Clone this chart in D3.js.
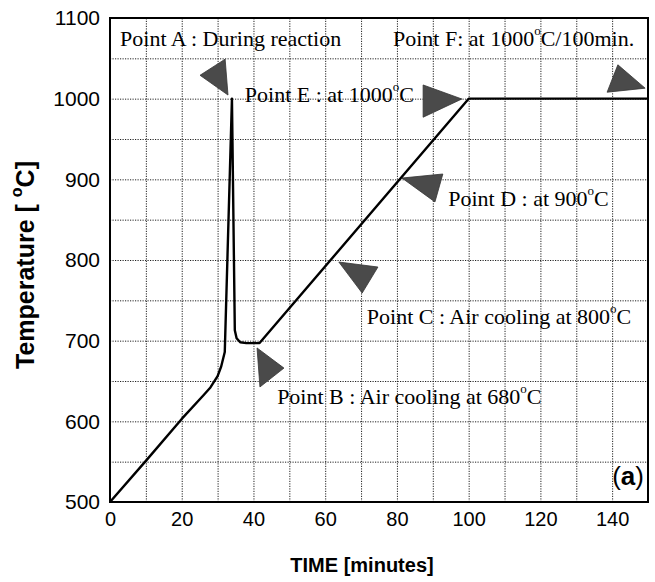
<!DOCTYPE html>
<html><head><meta charset="utf-8">
<script src="https://cdn.jsdelivr.net/npm/d3@7"></script>
<style>
html,body{margin:0;padding:0;background:#fff;}
svg{display:block;}
</style></head>
<body><svg id="chart" width="655" height="582"></svg>
<script>
// ---- data ----
const timeMin = [0, 10, 20, 26, 28, 30, 31, 32, 34, 34.8, 35.3, 36.3, 38, 41.7, 100, 150];
const tempC   = [500, 551, 603, 632, 642, 656, 668, 686, 1000, 713, 703, 698, 697, 697, 1000, 1000];
const xTickLabels = [0, 20, 40, 60, 80, 100, 120, 140];
const yTickLabels = [500, 600, 700, 800, 900, 1000, 1100];
const xGrid = [10,20,30,40,50,60,70,80,90,100,110,120,130,140];
const yGrid = [550,600,650,700,750,800,850,900,950,1000,1050];
// annotation labels: [text before degree, text after degree]
const noteText = [
  ["Point A : During reaction", ""],
  ["Point F: at 1000", "C/100min."],
  ["Point E : at 1000", "C"],
  ["Point D : at 900", "C"],
  ["Point C : Air cooling at 800", "C"],
  ["Point B : Air cooling at 680", "C"]
];
const noteAt = [[2.8, 1072], [78.9, 1071], [37.6, 1002], [94.3, 873], [71.6, 727], [46.6, 628]];
// pointer triangles: vertices as [time, temp]
const triA = [[25.1,1029],[32.1,1049],[32.9,1004.5]];
const triE = [[87.3,1017],[87.3,977],[98.1,999.6]];
const triF = [[138.6,1008],[141.6,1042],[149.2,1013]];
const triD = [[81.4,901.6],[92.8,906.6],[90.6,872]];
const triC = [[63.8,797.5],[74.7,791.3],[70.3,759]];
const triB = [[41.0,691],[48.5,666],[41.8,642.6]];

// ---- layout ----
const L = 110, R = 648, T = 18, B = 502;
const svg = d3.select("#chart");
const x = d3.scaleLinear().domain([0,150]).range([L,R]);
const y = d3.scaleLinear().domain([500,1100]).range([B,T]);

// grid
const gx = svg.append("g").attr("transform",`translate(0,${B})`)
  .call(d3.axisBottom(x).tickValues(xGrid).tickSize(-(B-T)).tickFormat(""));
const gy = svg.append("g").attr("transform",`translate(${L},0)`)
  .call(d3.axisLeft(y).tickValues(yGrid).tickSize(-(R-L)).tickFormat(""));
[gx,gy].forEach(g=>{
  g.select(".domain").remove();
  g.selectAll("line").attr("stroke","#222").attr("stroke-width",1).attr("stroke-dasharray","1.2,1.3");
});

// tick labels
const ax = svg.append("g").attr("transform",`translate(0,${B})`)
  .call(d3.axisBottom(x).tickValues(xTickLabels).tickSize(0).tickPadding(10).tickFormat(d3.format("d")));
ax.select(".domain").remove();
ax.selectAll("text").attr("font-family","'Liberation Sans', Arial, sans-serif").attr("font-size",20).attr("fill","#000").attr("dy","0.71em");
const ay = svg.append("g").attr("transform",`translate(${L},0)`)
  .call(d3.axisLeft(y).tickValues(yTickLabels).tickSize(0).tickPadding(10).tickFormat(d3.format("d")));
ay.select(".domain").remove();
ay.selectAll("text").attr("font-family","'Liberation Sans', Arial, sans-serif").attr("font-size",21).attr("fill","#000");

// triangles
const tris = [triA, triE, triF, triD, triC, triB];
svg.append("g").selectAll("path").data(tris).join("path")
  .attr("d", d => "M" + d.map(p => x(p[0]) + "," + y(p[1])).join("L") + "Z")
  .attr("fill","#4a4a4a").attr("stroke","#333").attr("stroke-width",0.8);

// curve
const pts = timeMin.map((t,i)=>[t,tempC[i]]);
svg.append("path").datum(pts)
  .attr("d", d3.line().x(d=>x(d[0])).y(d=>y(d[1])))
  .attr("fill","none").attr("stroke","#000").attr("stroke-width",2.4).attr("stroke-linejoin","round");

// frame
svg.append("rect").attr("x",L).attr("y",T).attr("width",R-L).attr("height",B-T)
  .attr("fill","none").attr("stroke","#000").attr("stroke-width",2);

// annotations
const notes = svg.append("g").attr("font-family","'Liberation Serif', 'Times New Roman', serif").attr("font-size",22).attr("fill","#000");
noteText.forEach((nt,i)=>{
  const t = notes.append("text").attr("x",x(noteAt[i][0])).attr("y",y(noteAt[i][1])).attr("dominant-baseline","middle");
  t.append("tspan").text(nt[0]);
  if (nt[1]) {
    t.append("tspan").attr("font-size",13).attr("dy",-9).attr("dx",0).text("o");
    t.append("tspan").attr("dy",9).attr("dx",0).text(nt[1]);
  }
});

// (a)
svg.append("text").attr("x",644).attr("y",y(530)).attr("text-anchor","end").attr("dominant-baseline","middle")
  .attr("font-family","'Liberation Sans', Arial, sans-serif").attr("font-size",26).attr("font-weight","bold")
  .html('<tspan font-weight="normal">(</tspan>a<tspan font-weight="normal">)</tspan>');

// axis titles
svg.append("text").attr("x",362).attr("y",567).attr("text-anchor","middle").attr("dominant-baseline","middle")
  .attr("font-family","'Liberation Sans', Arial, sans-serif").attr("font-size",20).attr("font-weight","bold")
  .text("TIME [minutes]");
const yl = svg.append("text").attr("transform","translate(27,265) rotate(-90)").attr("text-anchor","middle").attr("dominant-baseline","middle")
  .attr("font-family","'Liberation Sans', Arial, sans-serif").attr("font-size",25).attr("font-weight","bold");
yl.append("tspan").text("Temperature [ ");
yl.append("tspan").attr("font-size",16).attr("dy",-9).text("o");
yl.append("tspan").attr("dy",9).attr("dx",0).text("C]");
</script></body></html>
